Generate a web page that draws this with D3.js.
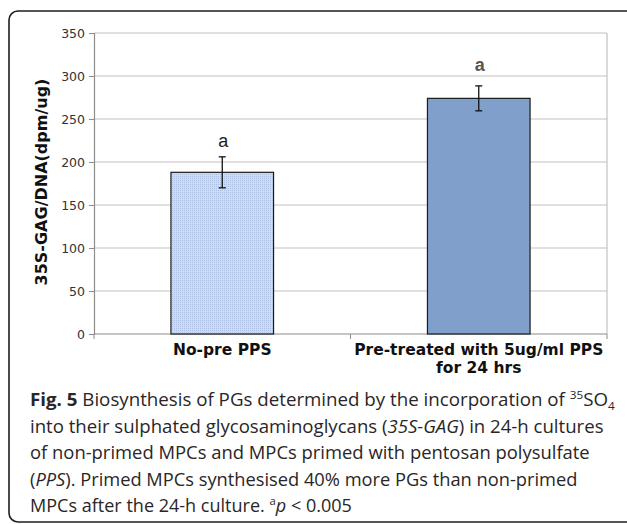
<!DOCTYPE html>
<html>
<head>
<meta charset="utf-8">
<script src="https://cdn.jsdelivr.net/npm/d3@7"></script>
<style>
  body { margin: 0; background: #fff; }
  svg { display: block; }
</style>
</head>
<body>
<script>
// data
var categories = ["No-pre PPS", "Pre-treated with 5ug/ml PPS|for 24 hrs"];
var means = [188, 274];
var errors = [18, 14.5];
var sigLetters = ["a", "a"];
var yTicks = [0, 50, 100, 150, 200, 250, 300, 350];

var W = 627, H = 524;
var plot = {left: 94, right: 607, top: 33, bottom: 334};

var svg = d3.select("body").append("svg")
    .attr("width", W)
    .attr("height", H);

// fine dotted fill for the first bar
var defs = svg.append("defs");
var pat = defs.append("pattern")
    .attr("id", "dots")
    .attr("width", 2).attr("height", 2)
    .attr("patternUnits", "userSpaceOnUse");
pat.append("rect").attr("width", 2).attr("height", 2).attr("fill", "#d0dbef");
pat.append("rect").attr("width", 1).attr("height", 1).attr("fill", "#adc0e2");

//Outer frame
svg.append("rect")
    .attr("x", 9).attr("y", 11)
    .attr("width", 630).attr("height", 511)
    .attr("rx", 9)
    .attr("fill", "none")
    .attr("stroke", "#1e1e1e")
    .attr("stroke-width", 1.6);

//Scales
var xScale = d3.scaleBand()
    .domain(categories)
    .range([plot.left, plot.right])
    .paddingInner(0.6)
    .paddingOuter(0.3);
var yScale = d3.scaleLinear()
    .domain([0, 350])
    .range([plot.bottom, plot.top]);

//Gridlines
svg.append("g")
    .selectAll("line")
    .data(yTicks.slice(1))
    .enter().append("line")
    .attr("x1", plot.left).attr("x2", plot.right)
    .attr("y1", function(d) { return yScale(d); })
    .attr("y2", function(d) { return yScale(d); })
    .attr("stroke", "#c2c2c2")
    .attr("stroke-width", 1.2);

// right border of plot area
svg.append("line")
    .attr("x1", plot.right).attr("x2", plot.right)
    .attr("y1", plot.top).attr("y2", plot.bottom)
    .attr("stroke", "#c2c2c2")
    .attr("stroke-width", 1.2);

//Y axis
var yAxis = d3.axisLeft(yScale).tickValues(yTicks).tickSize(5).tickPadding(4);
var gY = svg.append("g")
    .attr("transform", "translate(" + plot.left + ",0)")
    .call(yAxis);
gY.select(".domain").attr("stroke", "#8c8c8c").attr("stroke-width", 1.2);
gY.selectAll(".tick line").attr("stroke", "#8c8c8c");
gY.selectAll(".tick text")
    .attr("font-family", "DejaVu Sans, Verdana, sans-serif")
    .attr("font-size", "12.5px")
    .attr("fill", "#333");

//X axis line + boundary ticks
svg.append("line")
    .attr("x1", plot.left).attr("x2", plot.right)
    .attr("y1", yScale(0)).attr("y2", yScale(0))
    .attr("stroke", "#8c8c8c")
    .attr("stroke-width", 1.2);
var step = xScale.step();
var bounds = categories.map(function(c) { return xScale(c) - xScale.paddingOuter() * step; });
bounds.push(plot.right);
svg.append("g")
    .selectAll("line")
    .data(bounds)
    .enter().append("line")
    .attr("x1", function(d) { return d; })
    .attr("x2", function(d) { return d; })
    .attr("y1", yScale(0))
    .attr("y2", yScale(0) + 5)
    .attr("stroke", "#8c8c8c");

//Bars
svg.append("g")
    .selectAll("rect")
    .data(means)
    .enter().append("rect")
    .attr("x", function(d, i) { return xScale(categories[i]); })
    .attr("y", function(d) { return yScale(d); })
    .attr("width", xScale.bandwidth())
    .attr("height", function(d) { return yScale(0) - yScale(d); })
    .attr("fill", function(d, i) { return i == 0 ? "url(#dots)" : "#819fcb"; })
    .attr("stroke", "#1a1a1a")
    .attr("stroke-width", 1.2);

//Error bars
var eb = svg.append("g")
    .selectAll("g")
    .data(means)
    .enter().append("g")
    .attr("stroke", "#111")
    .attr("stroke-width", 1.3);
eb.append("line")
    .attr("x1", function(d, i) { return xScale(categories[i]) + xScale.bandwidth() / 2; })
    .attr("x2", function(d, i) { return xScale(categories[i]) + xScale.bandwidth() / 2; })
    .attr("y1", function(d, i) { return yScale(d + errors[i]); })
    .attr("y2", function(d, i) { return yScale(d - errors[i]); });
[1, -1].forEach(function(s) {
    eb.append("line")
        .attr("x1", function(d, i) { return xScale(categories[i]) + xScale.bandwidth() / 2 - 3.5; })
        .attr("x2", function(d, i) { return xScale(categories[i]) + xScale.bandwidth() / 2 + 3.5; })
        .attr("y1", function(d, i) { return yScale(d + s * errors[i]); })
        .attr("y2", function(d, i) { return yScale(d + s * errors[i]); });
});

//Significance letters
svg.append("g")
    .selectAll("text")
    .data(sigLetters)
    .enter().append("text")
    .attr("x", function(d, i) { return xScale(categories[i]) + xScale.bandwidth() / 2 + 1; })
    .attr("y", function(d, i) { return yScale(means[i] + errors[i]) - (i == 0 ? 10 : 15); })
    .attr("text-anchor", "middle")
    .attr("font-family", "Liberation Sans, Arial, sans-serif")
    .attr("font-size", "18px")
    .attr("font-weight", function(d, i) { return i == 0 ? "normal" : "bold"; })
    .attr("fill", function(d, i) { return i == 0 ? "#222" : "#555"; })
    .text(function(d) { return d; });

//Category labels
var catLab = svg.append("g")
    .selectAll("text")
    .data(categories)
    .enter().append("text")
    .attr("x", function(d) { return xScale(d) + xScale.bandwidth() / 2; })
    .attr("y", 355)
    .attr("text-anchor", "middle")
    .attr("font-family", "DejaVu Sans, Verdana, sans-serif")
    .attr("font-weight", "bold")
    .attr("font-size", "15.5px")
    .attr("fill", "#111");
catLab.selectAll("tspan")
    .data(function(d) { return d.split("|").map(function(t) { return {t: t, x: xScale(d) + xScale.bandwidth() / 2}; }); })
    .enter().append("tspan")
    .attr("x", function(d) { return d.x; })
    .attr("dy", function(d, i) { return i == 0 ? 0 : 18; })
    .text(function(d) { return d.t; });

//Y title
svg.append("text")
    .attr("transform", "rotate(-90)")
    .attr("x", -182)
    .attr("y", 47)
    .attr("text-anchor", "middle")
    .attr("font-family", "DejaVu Sans, Verdana, sans-serif")
    .attr("font-weight", "bold")
    .attr("font-size", "16px")
    .attr("fill", "#111")
    .text("35S-GAG/DNA(dpm/ug)");

//Caption
var capLines = [
    [{t: "Fig. 5", b: 1}, {t: " Biosynthesis of PGs determined by the incorporation of "}, {t: "35", sup: 1}, {t: "SO"}, {t: "4", sub: 1}],
    [{t: "into their sulphated glycosaminoglycans ("}, {t: "35S-GAG", i: 1}, {t: ") in 24-h cultures"}],
    [{t: "of non-primed MPCs and MPCs primed with pentosan polysulfate"}],
    [{t: "("}, {t: "PPS", i: 1}, {t: "). Primed MPCs synthesised 40% more PGs than non-primed"}],
    [{t: "MPCs after the 24-h culture. "}, {t: "a", sup: 1}, {t: "p", i: 1}, {t: " < 0.005"}]
];
var capWidths = [586, 574, 560, 548, 322];

capLines.forEach(function(line, li) {
    var g = svg.append("g").attr("transform", "translate(30," + (406 + li * 26.5) + ")");
    var txt = g.append("text")
        .attr("font-family", "Open Sans, Noto Sans, sans-serif")
        .attr("font-size", "17.5px")
        .attr("fill", "#2a2627");
    line.forEach(function(p) {
        var ts = txt.append("tspan").text(p.t);
        if (p.b) ts.attr("font-weight", "bold");
        if (p.i) ts.attr("font-style", "italic");
        if (p.sup) ts.attr("font-size", "11px").attr("baseline-shift", "7px");
        if (p.sub) ts.attr("font-size", "11px").attr("baseline-shift", "-4px");
    });
    var w = txt.node().getBBox().width;
    txt.attr("transform", "scale(" + (capWidths[li] / w) + ",1)");
});
</script>
</body>
</html>
